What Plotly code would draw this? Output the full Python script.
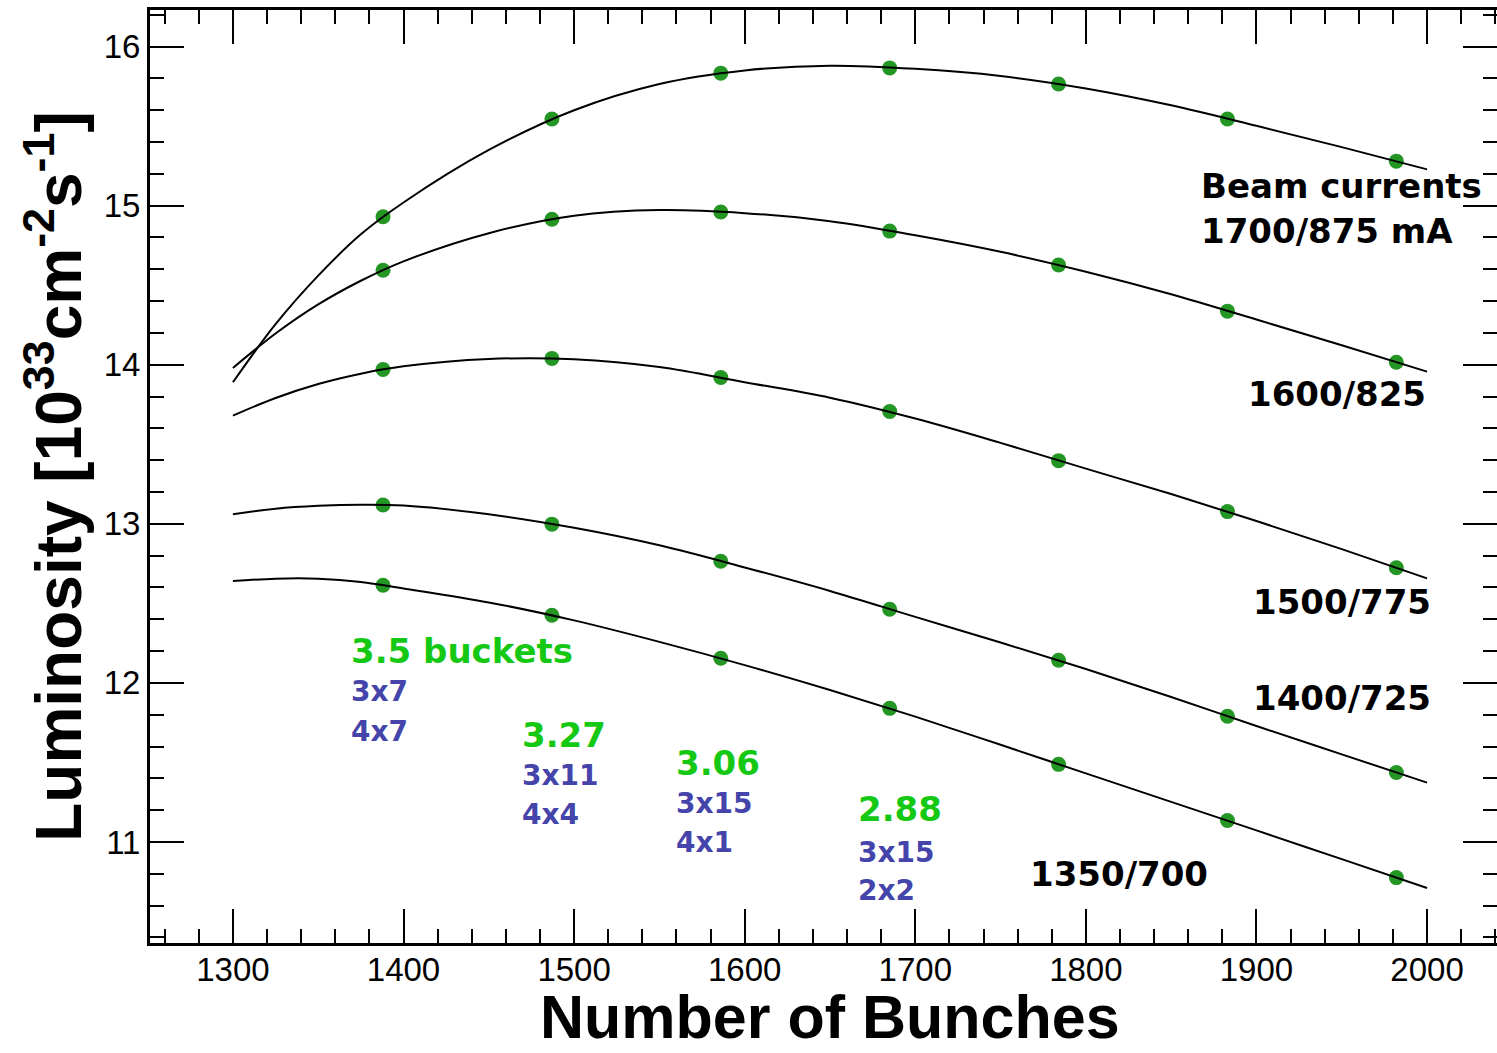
import plotly.graph_objects as go

# ---------------- data ----------------
bunches = [1388, 1487, 1586, 1685, 1784, 1883, 1982]

lum_1700_875 = [14.93, 15.545, 15.833, 15.866, 15.765, 15.545, 15.28]
lum_1600_825 = [14.594, 14.915, 14.96, 14.84, 14.627, 14.337, 14.016]
lum_1500_775 = [13.97, 14.04, 13.92, 13.706, 13.397, 13.077, 12.724]
lum_1400_725 = [13.118, 12.998, 12.765, 12.463, 12.142, 11.79, 11.437]
lum_1350_700 = [12.614, 12.425, 12.155, 11.84, 11.488, 11.135, 10.776]

# fitted curves, read at these positions from the picture
fit_x = [1300, 1325, 1350, 1375, 1400, 1450, 1500, 1550, 1600, 1650, 1700,
         1750, 1800, 1850, 1900, 1950, 2000]
fit_1700_875 = [13.89, 14.255, 14.56, 14.82, 15.02, 15.35, 15.60, 15.765, 15.85,
                15.88, 15.86, 15.815, 15.737, 15.631, 15.502, 15.368, 15.228]
fit_1600_825 = [13.98, 14.196, 14.379, 14.528, 14.65, 14.827, 14.937, 14.972,
                14.953, 14.902, 14.814, 14.71, 14.585, 14.443, 14.284, 14.123, 13.957]
fit_1500_775 = [13.68, 13.791, 13.879, 13.944, 13.99, 14.036, 14.035, 13.986,
                13.89, 13.793, 13.662, 13.509, 13.347, 13.187, 13.018, 12.841, 12.657]
fit_1400_725 = [13.06, 13.095, 13.113, 13.12, 13.115, 13.06, 12.975, 12.865,
                12.726, 12.578, 12.415, 12.254, 12.087, 11.911, 11.729, 11.551, 11.373]
fit_1350_700 = [12.64, 12.655, 12.655, 12.635, 12.594, 12.506, 12.393, 12.258,
                12.112, 11.955, 11.788, 11.611, 11.431, 11.252, 11.073, 10.892, 10.711]

x_tick_labels = ["1300", "1400", "1500", "1600", "1700", "1800", "1900", "2000"]
y_tick_labels = ["11", "12", "13", "14", "15", "16"]

x_title = "Number of Bunches"
y_title = "Luminosity [10<sup>33</sup>cm<sup>-2</sup>s<sup>-1</sup>]"

current_labels = ["Beam currents", "1700/875 mA", "1600/825", "1500/775",
                  "1400/725", "1350/700"]
bucket_labels = ["3.5 buckets", "3.27", "3.06", "2.88"]
pattern_labels = [["3x7", "4x7"], ["3x11", "4x4"], ["3x15", "4x1"], ["3x15", "2x2"]]

# ---------------- figure ----------------
W, H = 1497, 1053
L_M, R_M, T_M, B_M = 150, 0, 10, 110
X_RANGE = [1251.4, 2041.0]
Y_RANGE = [10.365, 16.23]
PLOT_H = H - T_M - B_M


def px2x(px):
    return X_RANGE[0] + (px - L_M) / (W - L_M - R_M) * (X_RANGE[1] - X_RANGE[0])


def py2y(py):
    return Y_RANGE[1] - (py - T_M) / PLOT_H * (Y_RANGE[1] - Y_RANGE[0])


fig = go.Figure()

series_pts = [lum_1700_875, lum_1600_825, lum_1500_775, lum_1400_725, lum_1350_700]
series_fit = [fit_1700_875, fit_1600_825, fit_1500_775, fit_1400_725, fit_1350_700]

for pts in series_pts:
    fig.add_trace(go.Scatter(
        x=bunches, y=pts, mode="markers",
        marker=dict(size=15, color="rgb(36,150,36)", line=dict(width=0)),
        showlegend=False, hoverinfo="skip"))

for fit in series_fit:
    fig.add_trace(go.Scatter(
        x=fit_x, y=fit, mode="lines",
        line=dict(color="black", width=2, shape="spline", smoothing=1.0),
        showlegend=False, hoverinfo="skip"))

ann = []
BLACK_FONT = dict(family="DejaVu Sans", size=34, color="black", weight="bold")
GREEN_FONT = dict(family="DejaVu Sans", size=34, color="rgb(20,200,20)", weight="bold")
BLUE_FONT = dict(family="DejaVu Sans", size=28, color="rgb(68,68,170)", weight="bold")

black_pos = [(1199, 186), (1199, 231), (1246, 394), (1251, 602), (1251, 698), (1028, 874)]
for txt, (px, py) in zip(current_labels, black_pos):
    ann.append(dict(x=px2x(px), y=py2y(py), text=txt, showarrow=False,
                    xanchor="left", yanchor="middle", font=BLACK_FONT))

green_pos = [(349, 651), (520, 735), (674, 763), (856, 809)]
for txt, (px, py) in zip(bucket_labels, green_pos):
    ann.append(dict(x=px2x(px), y=py2y(py), text=txt, showarrow=False,
                    xanchor="left", yanchor="middle", font=GREEN_FONT))

blue_pos = [[(349, 691), (349, 731)], [(520, 775), (520, 814)],
            [(674, 803), (674, 842)], [(856, 852), (856, 890)]]
for pair, poss in zip(pattern_labels, blue_pos):
    for txt, (px, py) in zip(pair, poss):
        ann.append(dict(x=px2x(px), y=py2y(py), text=txt, showarrow=False,
                        xanchor="left", yanchor="middle", font=BLUE_FONT))

# x-axis title placed as a paper annotation, its box ending just above the bottom edge
ann.append(dict(xref="paper", yref="paper", x=0.505, y=-(1052 - (H - B_M)) / PLOT_H,
                text=x_title, showarrow=False, xanchor="center", yanchor="bottom",
                borderpad=0,
                font=dict(family="Liberation Sans", size=61, color="black",
                          weight="bold")))

axis_common = dict(
    showline=True, linecolor="black", linewidth=3, mirror="ticks",
    ticks="inside", tickcolor="black", tickwidth=2, ticklen=34,
    showgrid=False, zeroline=False,
    tickfont=dict(family="Liberation Sans", size=33, color="black"),
)

fig.update_layout(
    width=W, height=H,
    margin=dict(l=L_M, r=R_M, t=T_M, b=B_M, autoexpand=False),
    paper_bgcolor="white", plot_bgcolor="white",
    showlegend=False,
    annotations=ann,
    xaxis=dict(
        range=X_RANGE, tickmode="array",
        tickvals=[int(t) for t in x_tick_labels], ticktext=x_tick_labels,
        ticklabelstandoff=-5,
        minor=dict(ticks="inside", dtick=20, tick0=1300, ticklen=14,
                   tickwidth=2, tickcolor="black", showgrid=False),
        **axis_common),
    yaxis=dict(
        range=Y_RANGE, tickmode="array",
        tickvals=[int(t) for t in y_tick_labels], ticktext=y_tick_labels,
        minor=dict(ticks="inside", dtick=0.2, tick0=11, ticklen=14,
                   tickwidth=2, tickcolor="black", showgrid=False),
        title=dict(text=y_title, standoff=2,
                   font=dict(family="Liberation Sans", size=64, color="black",
                             weight="bold")),
        **axis_common),
)

fig.write_html("out.html", config={"displayModeBar": False})
